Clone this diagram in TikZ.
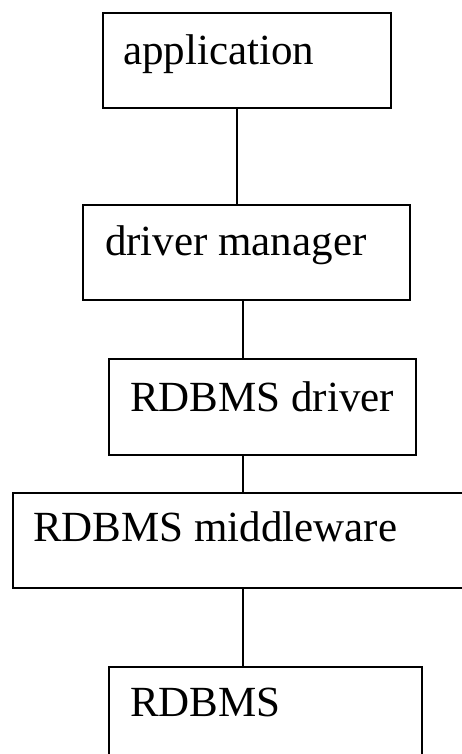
\documentclass[tikz,border=0pt]{standalone}
\usepackage{fontspec}
\setmainfont{Liberation Serif}
\begin{document}
\begin{tikzpicture}[x=1pt,y=1pt,
  box/.style={draw=black,line width=1.4pt,rectangle,inner sep=0pt,outer sep=0pt,anchor=north west},
  lbl/.style={inner sep=0pt,outer sep=0pt,anchor=base west,font=\fontsize{43}{50}\selectfont},
  conn/.style={draw=black,line width=1.3pt}]
\useasboundingbox (0,0) rectangle (462,-754);
\node[box,minimum width=288pt,minimum height=95pt] (b1) at (103,-13) {};
\node[box,minimum width=327pt,minimum height=95pt] (b2) at (83,-205) {};
\node[box,minimum width=307pt,minimum height=96pt] (b3) at (109,-359) {};
\node[box,minimum width=480pt,minimum height=95pt] (b4) at (13,-493) {};
\node[box,minimum width=313pt,minimum height=113pt] (b5) at (109,-667) {};
\node[lbl] (t1) at ([xshift=20pt,yshift=-52pt]b1.north west) {application};
\node[lbl] (t2) at ([xshift=22pt,yshift=-50pt]b2.north west) {driver manager};
\node[lbl] (t3) at ([xshift=21pt,yshift=-52pt]b3.north west) {RDBMS driver};
\node[lbl] (t4) at ([xshift=20pt,yshift=-48pt]b4.north west) {RDBMS middleware};
\node[lbl] (t5) at ([xshift=21pt,yshift=-49pt]b5.north west) {RDBMS};
\draw[conn] ([xshift=134pt]b1.south west) -- ([xshift=154pt]b2.north west);
\draw[conn] ([xshift=160pt]b2.south west) -- ([xshift=134pt]b3.north west);
\draw[conn] ([xshift=134pt]b3.south west) -- ([xshift=230pt]b4.north west);
\draw[conn] ([xshift=230pt]b4.south west) -- ([xshift=134pt]b5.north west);
\end{tikzpicture}
\end{document}
